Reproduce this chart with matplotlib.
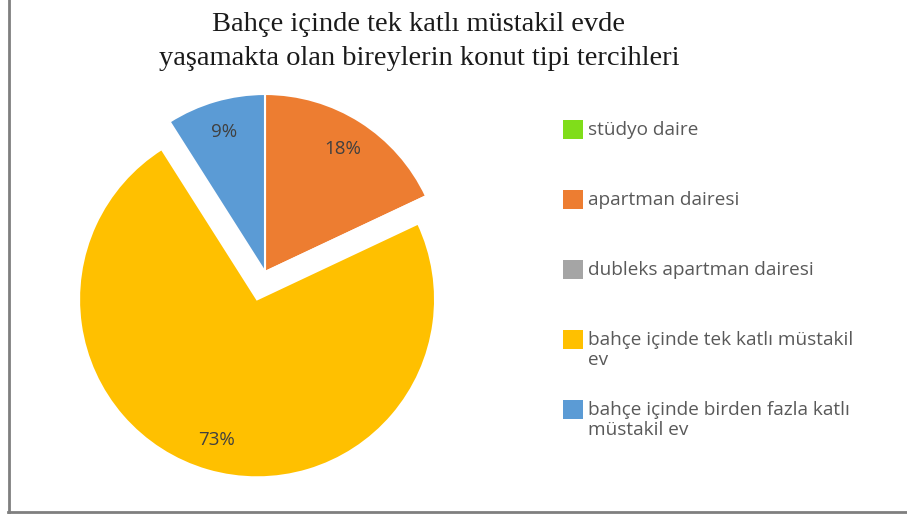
import matplotlib
matplotlib.use("Agg")
import matplotlib.pyplot as plt
from matplotlib.patches import Rectangle
from matplotlib.lines import Line2D

labels = ["stüdyo daire", "apartman dairesi", "dubleks apartman dairesi",
          "bahçe içinde tek katlı müstakil\nev", "bahçe içinde birden fazla katlı\nmüstakil ev"]
values = [0, 18, 0, 73, 9]
colors = ["#80DD1A", "#ED7D31", "#A5A5A5", "#FFC000", "#5B9BD5"]
explode = [0, 0, 0, 0.16, 0]

W, H = 907, 515
fig = plt.figure(figsize=(W / 100, H / 100), dpi=100)

# pie axes: center at (265, 272) px, radius 178 px
cx, cy, r = 265, 272, 178
half = 225
ax = fig.add_axes([(cx - half) / W, (H - cy - half) / H, 2 * half / W, 2 * half / H])
lim = half / r


def pct(p):
    return "" if p < 0.5 else "%d%%" % round(p)


wedges, texts, autotexts = ax.pie(values, colors=colors, explode=explode, startangle=90,
                                  counterclock=False, autopct=pct, pctdistance=0.82,
                                  wedgeprops=dict(edgecolor="white", linewidth=1.5),
                                  textprops=dict(color="#404040", fontsize=13.5, family="Open Sans"))
ax.set_xlim(-lim, lim)
ax.set_ylim(-lim, lim)
ax.set_aspect("equal")
ax.axis("off")

fig.text(419 / W, 1 - 12 / H, "Bahçe içinde tek katlı müstakil evde\nyaşamakta olan bireylerin konut tipi tercihleri",
         ha="center", va="top", fontsize=20.5, family="Liberation Serif", color="#1a1a1a",
         linespacing=1.45)

# legend
for i, (lab, col) in enumerate(zip(labels, colors)):
    y = 129 + 70 * i
    fig.patches.append(Rectangle((563 / W, 1 - (y + 10) / H), 20 / W, 19 / H,
                                 transform=fig.transFigure, facecolor=col, edgecolor="none"))
    for j, line in enumerate(lab.split("\n")):
        fig.text(588 / W, 1 - (y + 6 + 20 * j) / H, line, ha="left", va="baseline",
                 fontsize=13.7, family="Open Sans", color="#595959")

# border
fig.lines.append(Line2D([9 / W, 9 / W], [1, 1 - 512 / H], transform=fig.transFigure,
                        color="#7f7f7f", linewidth=2))
fig.lines.append(Line2D([8 / W, 1], [1 - 512 / H, 1 - 512 / H], transform=fig.transFigure,
                        color="#7f7f7f", linewidth=2))

fig.savefig("out.png", dpi=100, facecolor="white")
